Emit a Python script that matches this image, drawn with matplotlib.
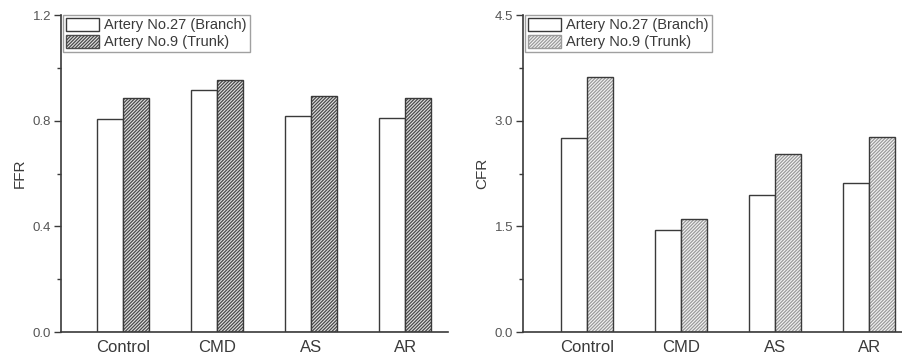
import matplotlib
matplotlib.use("Agg")
import matplotlib.pyplot as plt
from matplotlib.patches import Patch
import numpy as np

plt.rcParams['font.family'] = ['Liberation Sans', 'DejaVu Sans']
plt.rcParams['hatch.linewidth'] = 0.9

groups = ["Control", "CMD", "AS", "AR"]
labels = ["Artery No.27 (Branch)", "Artery No.9 (Trunk)"]

ffr_branch = [0.805, 0.917, 0.816, 0.809]
ffr_trunk = [0.885, 0.955, 0.894, 0.885]

cfr_branch = [2.75, 1.45, 1.94, 2.12]
cfr_trunk = [3.62, 1.60, 2.52, 2.77]

ink = "#3a3a3a"
x = np.arange(1, len(groups) + 1)
w = 0.28

fig = plt.figure(figsize=(9.02, 3.58), dpi=100)
ax1 = fig.add_axes([0.0676, 0.0726, 0.4291, 0.8855])
ax2 = fig.add_axes([0.5798, 0.0726, 0.4202, 0.8855])


def draw(ax, branch, trunk, hatch_col, face, ylabel, ymax, step, xlim):
    ax.bar(x - w / 2, branch, w, color="white", edgecolor=ink, linewidth=1.0)
    # hatch drawn in its own colour, outline laid on top
    ax.bar(x + w / 2, trunk, w, color=face, edgecolor=hatch_col, linewidth=0,
           hatch="/" * 10)
    ax.bar(x + w / 2, trunk, w, fill=False, edgecolor=ink, linewidth=1.0)
    ax.set_xlim(*xlim)
    ax.set_ylim(0, ymax)
    ax.set_yticks(np.arange(0, ymax + step / 2, step))
    ax.set_yticks(np.arange(step / 2, ymax, step), minor=True)
    ax.set_xticks(x)
    ax.set_xticklabels(groups, fontsize=12, color=ink)
    ax.tick_params(axis="x", length=0, pad=6)
    ax.tick_params(axis="y", which="major", length=5, width=1, color=ink,
                   labelsize=9.5, labelcolor="#555555", pad=2)
    ax.tick_params(axis="y", which="minor", length=3, width=1, color=ink)
    ax.set_ylabel(ylabel, fontsize=11, color=ink, labelpad=4)
    for s in ["top", "right"]:
        ax.spines[s].set_visible(False)
    for s in ["left", "bottom"]:
        ax.spines[s].set_color(ink)
        ax.spines[s].set_linewidth(1.2)

    handles = [Patch(facecolor="white", edgecolor=ink, linewidth=1.0),
               Patch(facecolor=face, edgecolor=hatch_col, hatch="/" * 10,
                     linewidth=1.0)]
    leg = ax.legend(handles, labels, loc="upper left",
                    bbox_to_anchor=(0.005, 1.0),
                    fontsize=10.5, frameon=True, fancybox=False,
                    borderaxespad=0, borderpad=0.2, labelspacing=0.15,
                    handlelength=2.3, handleheight=1.0, handletextpad=0.35)
    leg.get_frame().set_edgecolor("#888888")
    leg.get_frame().set_linewidth(1.0)
    for t in leg.get_texts():
        t.set_color(ink)


draw(ax1, ffr_branch, ffr_trunk, "#4a4a4a", "#e2e2e2", "FFR", 1.2, 0.4,
     (0.34, 4.457))
draw(ax2, cfr_branch, cfr_trunk, "#9a9a9a", "#f4f4f4", "CFR", 4.5, 1.5,
     (0.319, 4.35))

fig.savefig("out.png", dpi=100)
